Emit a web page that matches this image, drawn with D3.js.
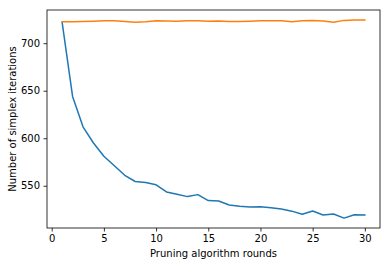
<!DOCTYPE html>
<html>
<head>
<meta charset="utf-8">
<script src="https://cdn.jsdelivr.net/npm/d3@7"></script>
<style>
body{margin:0;background:#fff;}
svg text{font-family:"DejaVu Sans",sans-serif;}
.axis path,.axis line{stroke:#000;stroke-width:0.8;}
.axis text{font-size:10px;fill:#000;}
</style>
</head>
<body>
<div id="main_div"></div>
<script>
let rounds=d3.range(1,31);
let pruned=[722,644,612,595,581,571,561,554.5,553.5,551,543.5,541,538.6,540.7,534.4,534,529.8,528.4,527.7,528,527,525.6,523.3,520,523.5,519.3,520.3,516,519.6,519.3];
let baseline=[722.5,722.6,722.9,723.1,723.5,723.7,722.8,722,722.6,723.5,723.3,723.1,723.6,723.5,723.2,723.4,722.8,722.7,723.2,723.5,723.7,723.5,722.5,723.7,724,723.4,722,724,724.5,724.3];
let xTicks=[0,5,10,15,20,25,30];
let yTicks=[550,600,650,700];
let series=[{values:pruned,color:"#1f77b4"},{values:baseline,color:"#ff7f0e"}];

let size=[392,266];
let margin={left:47,right:12,top:10,bottom:38};
let xScale,yScale;

render();

function render(){
    let svg=d3.select("#main_div")
        .append("svg")
        .attr("width",size[0])
        .attr("height",size[1])
        .attr("id","main_svg");

    /**scales with matplotlib-like 5% margins**/
    let xmin=d3.min(rounds),xmax=d3.max(rounds);
    let xpad=(xmax-xmin)*0.05;
    xScale=d3.scaleLinear()
        .domain([xmin-xpad,xmax+xpad])
        .range([margin.left,size[0]-margin.right]);

    let all=pruned.concat(baseline);
    let ymin=d3.min(all),ymax=d3.max(all);
    let ypad=(ymax-ymin)*0.05;
    yScale=d3.scaleLinear()
        .domain([ymin-ypad,ymax+ypad])
        .range([size[1]-margin.bottom,margin.top]);

    /**lines**/
    let line=d3.line()
        .x(function(d,i){return xScale(rounds[i]);})
        .y(function(d){return yScale(d);});

    svg.selectAll(".series")
        .data(series)
        .enter()
        .append("path")
        .attr("class","series")
        .attr("d",function(d){return line(d.values);})
        .attr("fill","none")
        .attr("stroke",function(d){return d.color;})
        .attr("stroke-width",1.5)
        .attr("stroke-linejoin","round")
        .attr("stroke-linecap","square");

    /**axes**/
    let xAxis=d3.axisBottom(xScale).tickValues(xTicks).tickSize(3.5).tickPadding(3.5).tickSizeOuter(0);
    let yAxis=d3.axisLeft(yScale).tickValues(yTicks).tickSize(3.5).tickPadding(3.5).tickSizeOuter(0);

    let xg=svg.append("g")
        .attr("class","axis")
        .attr("transform","translate(0,"+(size[1]-margin.bottom)+")")
        .call(xAxis);
    xg.select(".domain").remove();

    let yg=svg.append("g")
        .attr("class","axis")
        .attr("transform","translate("+margin.left+",0)")
        .call(yAxis);
    yg.select(".domain").remove();

    /**frame**/
    svg.append("rect")
        .attr("x",margin.left)
        .attr("y",margin.top)
        .attr("width",size[0]-margin.right-margin.left)
        .attr("height",size[1]-margin.bottom-margin.top)
        .attr("fill","none")
        .attr("stroke","#000")
        .attr("stroke-width",0.8);

    /**labels**/
    svg.append("text")
        .text("Pruning algorithm rounds")
        .attr("x",(margin.left+size[0]-margin.right)/2)
        .attr("y",257)
        .attr("text-anchor","middle")
        .style("font-size","10px");

    svg.append("text")
        .text("Number of simplex iterations")
        .attr("transform","translate(16,"+((margin.top+size[1]-margin.bottom)/2)+") rotate(-90)")
        .attr("text-anchor","middle")
        .style("font-size","10px");
}
</script>
</body>
</html>
